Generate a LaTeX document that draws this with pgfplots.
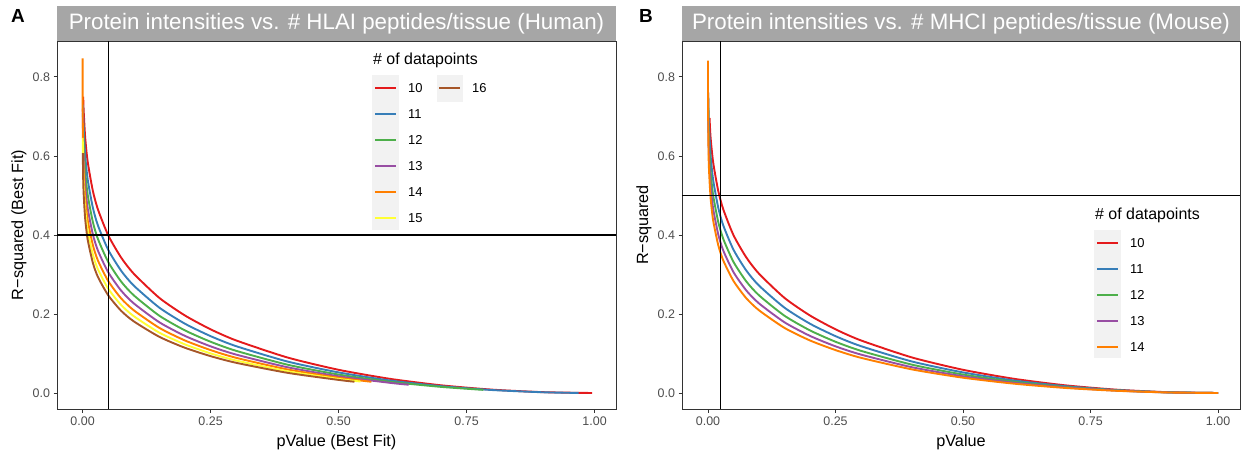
\documentclass[border=0pt]{standalone}
\usepackage{pgfplots}
\pgfplotsset{compat=1.18}
\usepackage{fontspec}
\setmainfont{Liberation Sans}
\definecolor{c10}{HTML}{E41A1C}
\definecolor{c11}{HTML}{377EB8}
\definecolor{c12}{HTML}{4DAF4A}
\definecolor{c13}{HTML}{984EA3}
\definecolor{c14}{HTML}{FF7F00}
\definecolor{c15}{HTML}{FFFF33}
\definecolor{c16}{HTML}{A65628}
\definecolor{gray20}{RGB}{51,51,51}
\definecolor{gray30}{RGB}{77,77,77}
\definecolor{keybg}{RGB}{242,242,242}
\definecolor{stripgray}{RGB}{166,166,166}
\pgfplotsset{
  panel/.style={
    scale only axis, height=368bp,
    ymin=-0.0405, ymax=0.891,
    axis line style={draw=gray20, line width=0.9bp},
    every tick/.style={draw=gray20, line width=0.9bp},
    tick align=outside, major tick length=3.5bp, tick pos=left,
    xtick={0,0.25,0.5,0.75,1}, xticklabels={0.00,0.25,0.50,0.75,1.00},
    ytick={0,0.2,0.4,0.6,0.8}, yticklabels={0.0,0.2,0.4,0.6,0.8},
    ticklabel style={font=\fontsize{12.5}{14}\selectfont, text=gray30},
    xticklabel style={yshift=-1bp},
    xlabel style={font=\fontsize{16.3}{18}\selectfont, at={(axis description cs:0.5,0)}, anchor=base, yshift=-37bp},
    ylabel style={font=\fontsize{16.3}{18}\selectfont, at={(axis description cs:0,0.5)}, anchor=center, yshift=38bp},
    every axis plot/.append style={line width=1.9bp, mark=none, smooth, tension=0.4},
  }
}
\begin{document}
\begin{tikzpicture}
\useasboundingbox (0,0) rectangle (1241bp,454bp);
% ---------------- Panel A ----------------
\begin{axis}[panel, at={(57bp,45bp)}, anchor=south west, width=559bp,
  xmin=-0.05, xmax=1.0418,
  xlabel={pValue (Best Fit)}, ylabel={R−squared (Best Fit)}]
\addplot[c10] coordinates {(0.0012,0.750) (0.002,0.7169) (0.005,0.6475) (0.01,0.5846) (0.02,0.5118) (0.03,0.4645) (0.05,0.3993) (0.075,0.3433) (0.1,0.3019) (0.15,0.2406) (0.2,0.1961) (0.25,0.1612) (0.3,0.1330) (0.4,0.0899) (0.5,0.0587) (0.6,0.0359) (0.7,0.0195) (0.8,0.0085) (0.9,0.0021) (0.995,0.0000)};
\addplot[c11] coordinates {(0.0007,0.730) (0.001,0.7175) (0.002,0.6723) (0.005,0.6021) (0.01,0.5399) (0.02,0.4693) (0.03,0.4238) (0.05,0.3625) (0.075,0.3100) (0.1,0.2718) (0.15,0.2159) (0.2,0.1753) (0.25,0.1439) (0.3,0.1185) (0.4,0.0797) (0.5,0.0521) (0.6,0.0317) (0.7,0.0173) (0.8,0.0075) (0.9,0.0018) (0.969,0.0002)};
\addplot[c12] coordinates {(0.0005,0.710) (0.001,0.6779) (0.002,0.6320) (0.005,0.5619) (0.01,0.5011) (0.02,0.4331) (0.03,0.3897) (0.05,0.3317) (0.075,0.2825) (0.1,0.2472) (0.15,0.1955) (0.2,0.1584) (0.25,0.1297) (0.3,0.1067) (0.4,0.0717) (0.5,0.0467) (0.6,0.0285) (0.7,0.0155) (0.783,0.0079)};
\addplot[c13] coordinates {(0.0002,0.720) (0.001,0.6415) (0.002,0.5956) (0.005,0.5265) (0.01,0.4672) (0.02,0.4018) (0.03,0.3603) (0.05,0.3058) (0.075,0.2596) (0.1,0.2268) (0.15,0.1789) (0.2,0.1445) (0.25,0.1181) (0.3,0.0972) (0.4,0.0652) (0.5,0.0423) (0.6,0.0258) (0.637,0.0209)};
\addplot[c14] coordinates {(0.00001,0.847) (0.0001,0.7302) (0.001,0.6084) (0.002,0.5628) (0.005,0.4948) (0.01,0.4375) (0.02,0.3746) (0.03,0.3351) (0.05,0.2835) (0.075,0.2399) (0.1,0.2093) (0.15,0.1647) (0.2,0.1329) (0.25,0.1086) (0.3,0.0890) (0.4,0.0597) (0.5,0.0387) (0.564,0.0284)};
\addplot[c15] coordinates {(0.0003,0.646) (0.001,0.5782) (0.002,0.5330) (0.005,0.4666) (0.01,0.4110) (0.02,0.3507) (0.03,0.3129) (0.05,0.2641) (0.075,0.2231) (0.1,0.1944) (0.15,0.1526) (0.2,0.1230) (0.25,0.1003) (0.3,0.0822) (0.4,0.0550) (0.5,0.0357) (0.543,0.0290)};
\addplot[c16] coordinates {(0.0004,0.607) (0.001,0.5504) (0.002,0.5060) (0.005,0.4414) (0.01,0.3876) (0.02,0.3297) (0.03,0.2936) (0.05,0.2474) (0.075,0.2084) (0.1,0.1813) (0.15,0.1421) (0.2,0.1144) (0.25,0.0933) (0.3,0.0764) (0.4,0.0511) (0.5,0.0331) (0.531,0.0285)};
\draw[black, line width=1.4bp] (axis cs:0.05,-0.0405) -- (axis cs:0.05,0.891);
\draw[black, line width=1.4bp] (axis cs:-0.05,0.4) -- (axis cs:1.0418,0.4);
\end{axis}
% ---------------- Panel B ----------------
\begin{axis}[panel, at={(682bp,45bp)}, anchor=south west, width=558bp,
  xmin=-0.051, xmax=1.043,
  xlabel={pValue}, ylabel={R−squared}]
\addplot[c10] coordinates {(0.003,0.696) (0.005,0.6475) (0.01,0.5846) (0.02,0.5118) (0.03,0.4645) (0.05,0.3993) (0.075,0.3433) (0.1,0.3019) (0.15,0.2406) (0.2,0.1961) (0.25,0.1612) (0.3,0.1330) (0.4,0.0899) (0.5,0.0587) (0.6,0.0359) (0.7,0.0195) (0.8,0.0085) (0.9,0.0021) (1.0,0.0000)};
\addplot[c11] coordinates {(0.0005,0.748) (0.001,0.7175) (0.002,0.6723) (0.005,0.6021) (0.01,0.5399) (0.02,0.4693) (0.03,0.4238) (0.05,0.3625) (0.075,0.3100) (0.1,0.2718) (0.15,0.2159) (0.2,0.1753) (0.25,0.1439) (0.3,0.1185) (0.4,0.0797) (0.5,0.0521) (0.6,0.0317) (0.7,0.0173) (0.8,0.0075) (0.9,0.0018) (1.0,0.0000)};
\addplot[c12] coordinates {(0.0002,0.760) (0.001,0.6779) (0.002,0.6320) (0.005,0.5619) (0.01,0.5011) (0.02,0.4331) (0.03,0.3897) (0.05,0.3317) (0.075,0.2825) (0.1,0.2472) (0.15,0.1955) (0.2,0.1584) (0.25,0.1297) (0.3,0.1067) (0.4,0.0717) (0.5,0.0467) (0.6,0.0285) (0.7,0.0155) (0.8,0.0067) (0.9,0.0017) (1.0,0.0000)};
\addplot[c13] coordinates {(0.0001,0.761) (0.001,0.6415) (0.002,0.5956) (0.005,0.5265) (0.01,0.4672) (0.02,0.4018) (0.03,0.3603) (0.05,0.3058) (0.075,0.2596) (0.1,0.2268) (0.15,0.1789) (0.2,0.1445) (0.25,0.1181) (0.3,0.0972) (0.4,0.0652) (0.5,0.0423) (0.6,0.0258) (0.7,0.0141) (0.8,0.0061) (0.9,0.0015) (1.0,0.0000)};
\addplot[c14] coordinates {(0.000005,0.841) (0.0001,0.7302) (0.001,0.6084) (0.002,0.5628) (0.005,0.4948) (0.01,0.4375) (0.02,0.3746) (0.03,0.3351) (0.05,0.2835) (0.075,0.2399) (0.1,0.2093) (0.15,0.1647) (0.2,0.1329) (0.25,0.1086) (0.3,0.0890) (0.4,0.0597) (0.5,0.0387) (0.6,0.0236) (0.7,0.0128) (0.8,0.0056) (0.9,0.0014) (1.0,0.0000)};
\draw[black, line width=1.4bp] (axis cs:0.025,-0.0405) -- (axis cs:0.025,0.891);
\draw[black, line width=1.4bp] (axis cs:-0.051,0.5) -- (axis cs:1.043,0.5);
\end{axis}
% ---------------- strips and panel letters ----------------
\fill[stripgray] (57bp,413bp) rectangle (616bp,448bp);
\fill[stripgray] (682bp,413bp) rectangle (1240bp,448bp);
\node[text=white, font=\fontsize{22.4}{24}\selectfont, inner sep=0] at (336.5bp,430.5bp) {Protein intensities vs. \# HLAI peptides/tissue (Human)};
\node[text=white, font=\fontsize{22.4}{24}\selectfont, inner sep=0] at (961bp,430.5bp) {Protein intensities vs. \# MHCI peptides/tissue (Mouse)};
\node[anchor=base west, font=\bfseries\fontsize{19}{20}\selectfont, inner sep=0] at (11bp,431bp) {A};
\node[anchor=base west, font=\bfseries\fontsize{19}{20}\selectfont, inner sep=0] at (639bp,431bp) {B};
% ---------------- legend A ----------------
\node[anchor=west, font=\fontsize{16}{18}\selectfont, inner sep=0] at (373bp,394bp) {\# of datapoints};
\fill[keybg] (372bp,224bp) rectangle (399bp,379bp);
\fill[keybg] (437bp,352.3bp) rectangle (463bp,379bp);
\foreach \yy/\cc/\lab in {365.7/c10/10, 339.8/c11/11, 313.9/c12/12, 288.0/c13/13, 262.1/c14/14, 236.2/c15/15} {
  \draw[\cc, line width=1.9bp] (375bp,\yy bp) -- (396bp,\yy bp);
  \node[anchor=west, font=\fontsize{13}{15}\selectfont, inner sep=0] at (408bp,\yy bp) {\lab};
}
\draw[c16, line width=1.9bp] (439bp,365.7bp) -- (460bp,365.7bp);
\node[anchor=west, font=\fontsize{13}{15}\selectfont, inner sep=0] at (472bp,365.7bp) {16};
% ---------------- legend B ----------------
\node[anchor=west, font=\fontsize{16}{18}\selectfont, inner sep=0] at (1095bp,239bp) {\# of datapoints};
\fill[keybg] (1094bp,96bp) rectangle (1121bp,224bp);
\foreach \yy/\cc/\lab in {211.3/c10/10, 185.3/c11/11, 159.3/c12/12, 133.3/c13/13, 107.3/c14/14} {
  \draw[\cc, line width=1.9bp] (1097bp,\yy bp) -- (1118bp,\yy bp);
  \node[anchor=west, font=\fontsize{13}{15}\selectfont, inner sep=0] at (1130bp,\yy bp) {\lab};
}
\end{tikzpicture}
\end{document}
